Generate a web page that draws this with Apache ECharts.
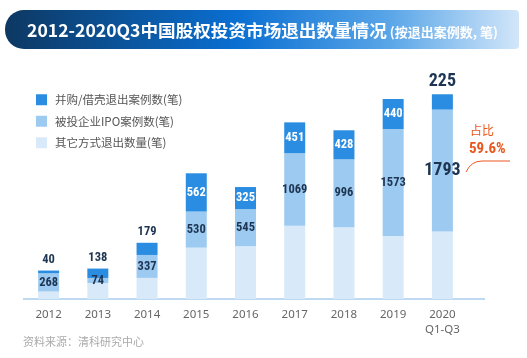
<!DOCTYPE html>
<html><head><meta charset="utf-8">
<script src="https://cdn.jsdelivr.net/npm/echarts@6/dist/echarts.min.js"></script>
<style>html,body{margin:0;padding:0;background:#fff}#c{width:527px;height:358px}</style>
</head><body><div id="c"></div>
<script>
const categories = ['2012','2013','2014','2015','2016','2017','2018','2019','2020\nQ1-Q3'];
const maValues = [40, 138, 179, 562, 325, 451, 428, 440, 225];
const ipoValues = [268, 74, 337, 530, 545, 1069, 996, 1573, 1793];
const otherValues = [110, 235, 310, 755, 775, 1075, 1055, 925, 990];
const seriesNames = ['并购/借壳退出案例数(笔)', '被投企业IPO案例数(笔)', '其它方式退出数量(笔)'];

const numFont = '"Roboto Condensed","Liberation Sans Narrow","DejaVu Sans Condensed",sans-serif';
const dark = '#1d3552';
const last = categories.length - 1;

const maData = maValues.map((v, i) => {
  if (i < 3) return {value: v, label: {position: 'top', color: dark, distance: 4}};
  if (i === last) return {value: v, label: {position: 'top', color: dark, fontSize: 18, distance: 4}};
  return {value: v, label: {position: 'inside', color: '#fff'}};
});
const ipoData = ipoValues.map((v, i) => i === last ? {value: v, label: {fontSize: 18}} : v);

const chart = echarts.init(document.getElementById('c'));
chart.setOption({
  animation: false,
  title: {
    left: 22, top: 17,
    text: '{a|2012-2020Q3中国股权投资市场退出数量情况}{b|(按退出案例数, 笔)}',
    textStyle: {
      rich: {
        a: {fontFamily: '"Noto Sans CJK SC"', fontWeight: 'bold', fontSize: 17.6, color: '#fff'},
        b: {fontFamily: '"Noto Sans CJK SC"', fontSize: 13, color: '#fff', padding: [2, 0, 0, 3]}
      }
    }
  },
  legend: {
    orient: 'vertical', left: 31, top: 89,
    itemWidth: 11, itemHeight: 11, itemGap: 10, icon: 'rect',
    data: seriesNames,
    textStyle: {color: '#555', fontSize: 11.5, fontFamily: '"Noto Sans CJK SC"', padding: [0, 0, 0, 3]}
  },
  grid: {left: 24, right: 60, top: 88, bottom: 59},
  xAxis: {
    type: 'category', data: categories,
    axisLine: {show: false}, axisTick: {show: false},
    axisLabel: {color: '#666', fontSize: 11.5, margin: 8, lineHeight: 15, fontFamily: '"Noto Sans", sans-serif'}
  },
  yAxis: {type: 'value', min: 0, max: 3100, show: false, splitLine: {show: false}},
  series: [
    {name: seriesNames[2], type: 'bar', stack: 's', barWidth: 21, data: otherValues,
     itemStyle: {color: '#d8e9f9'}},
    {name: seriesNames[1], type: 'bar', stack: 's', barWidth: 21, data: ipoData,
     itemStyle: {color: '#9dcaf0'},
     label: {show: true, position: 'inside', color: dark, fontWeight: 'bold', fontSize: 12.5, fontFamily: numFont}},
    {name: seriesNames[0], type: 'bar', stack: 's', barWidth: 21, data: maData,
     itemStyle: {color: '#2b8de1'},
     label: {show: true, fontWeight: 'bold', fontSize: 12.5, fontFamily: numFont}}
  ],
  graphic: [
    {type: 'rect', z: -1, shape: {x: 5, y: 10, width: 514, height: 39, r: [19, 4, 4, 19]},
     style: {fill: new echarts.graphic.LinearGradient(0, 0, 1, 0, [
       {offset: 0, color: '#0d3862'}, {offset: 0.45, color: '#0a6fd2'}, {offset: 0.75, color: '#5aa6e8'}, {offset: 1, color: '#d2e6f9'}])}},
    {type: 'line', shape: {x1: 23, y1: 299, x2: 485, y2: 299}, style: {stroke: '#a9cdee', lineWidth: 1.5}},
    {type: 'text', x: 470, y: 124, style: {text: '占比', fill: '#e8571e', fontSize: 12, fontFamily: '"Noto Sans CJK SC"'}},
    {type: 'text', x: 469, y: 142, style: {text: '59.6%', fill: '#e8571e', fontSize: 15, fontWeight: 'bold', fontFamily: numFont}},
    {type: 'bezierCurve', shape: {x1: 466, y1: 172, x2: 482, y2: 161, cpx1: 471, cpy1: 161}, style: {stroke: '#e8571e', lineWidth: 1, fill: null}},
    {type: 'line', shape: {x1: 482, y1: 161, x2: 510, y2: 161}, style: {stroke: '#e8571e', lineWidth: 1}},
    {type: 'text', x: 23, y: 336, style: {text: '资料来源：清科研究中心', fill: '#aaa', fontSize: 11, fontFamily: '"Noto Sans CJK SC"'}}
  ]
});
</script></body></html>
